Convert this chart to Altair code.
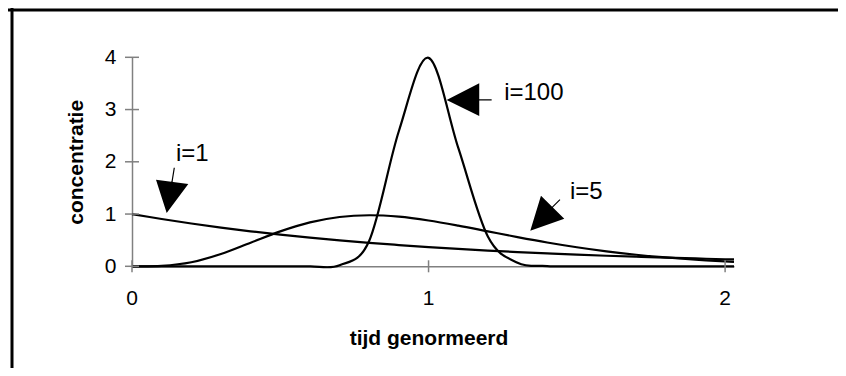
import altair as alt
import pandas as pd

# tijd genormeerd (theta)
theta = [0.0, 0.1, 0.2, 0.3, 0.4, 0.5, 0.6, 0.7, 0.8, 0.9, 1.0,
         1.1, 1.2, 1.3, 1.4, 1.5, 1.6, 1.7, 1.8, 1.9, 2.0, 2.03]
conc_i1 = [1.0, 0.905, 0.819, 0.741, 0.670, 0.607, 0.549, 0.497, 0.449, 0.407, 0.368,
           0.333, 0.301, 0.273, 0.247, 0.223, 0.202, 0.183, 0.165, 0.150, 0.135, 0.131]
conc_i5 = [0.0, 0.008, 0.077, 0.235, 0.451, 0.668, 0.840, 0.944, 0.977, 0.949, 0.877,
           0.779, 0.669, 0.559, 0.456, 0.365, 0.286, 0.221, 0.169, 0.127, 0.095, 0.086]
conc_i100 = [0.0, 0.0, 0.0, 0.0, 0.0, 0.0, 0.0, 0.02, 0.49, 2.59, 3.99,
             2.27, 0.57, 0.07, 0.005, 0.0, 0.0, 0.0, 0.0, 0.0, 0.0, 0.0]

series = [("i=1", conc_i1), ("i=5", conc_i5), ("i=100", conc_i100)]

# annotations: label, arrow tip (data coords), label position (data coords)
ann_labels = ["i=1", "i=100", "i=5"]
ann_tip_x = [0.117, 1.061, 1.343]
ann_tip_y = [1.02, 3.184, 0.682]
ann_text_x = [0.148, 1.255, 1.477]
ann_text_y = [2.15, 3.31, 1.43]

x_ticks = [0, 1, 2]
x_tick_labels = ["0", "1", "2"]
y_ticks = [0, 1, 2, 3, 4]

# arrow glyphs (pixel offsets from the tip, size=4 -> 1 unit = 1 px)
arrow_paths = [
    "M0,0L-10.7,-33.3L21.6,-29Z M4.7,-31L7,-45.3L8.2,-45.3L5.9,-31Z",
    "M0,0L32.6,-16.7L32.6,16Z M32,-0.6L45,-0.6L45,0.6L32,0.6Z",
    "M0,0L10.7,-35L34,-12Z M21,-23.1L29.3,-31.4L30.1,-30.6L21.8,-22.3Z",
]

rows = []
for name, vals in series:
    for t, v in zip(theta, vals):
        rows.append({"tijd": t, "conc": v, "reeks": name})
df = pd.DataFrame(rows)

W, H = 602, 209
FONT = "Liberation Sans"
GRAY = "#808080"

x_scale = alt.Scale(domain=[0, 2.03], nice=False, zero=False)
y_scale = alt.Scale(domain=[0, 4], nice=False)

x_axis = alt.Axis(values=x_ticks, ticks=False, grid=False, labels=False,
                  domainColor=GRAY, domainWidth=1.5,
                  title="tijd genormeerd", titleFont=FONT, titleFontSize=21,
                  titleFontWeight="bold", titleColor="black", titleX=296.5, titleY=78,
                  titleBaseline="alphabetic", titleAlign="center")
y_axis = alt.Axis(values=y_ticks, format="d", ticks=False, grid=False,
                  domainColor=GRAY, domainWidth=1.5, labelFont=FONT, labelFontSize=21,
                  labelColor="black", labelPadding=16, labelFlush=False, labelOverlap=False,
                  title="concentratie", titleFont=FONT, titleFontSize=21,
                  titleFontWeight="bold", titleColor="black", titleX=-50, titleY=H / 2,
                  titleBaseline="alphabetic", titleAlign="center", titleAngle=270)


def X(field):
    return alt.X(field, scale=x_scale, axis=x_axis)


def Y(field):
    return alt.Y(field, scale=y_scale, axis=y_axis)


one = pd.DataFrame({"k": [0]})

curves = alt.Chart(df).mark_line(interpolate="cardinal", tension=0, color="black",
                                 strokeWidth=2.2, clip=False).encode(
    x=X("tijd:Q"), y=Y("conc:Q"), detail="reeks:N")

yt = alt.Chart(pd.DataFrame({"v": y_ticks})).mark_rule(color=GRAY, strokeWidth=1.5).encode(
    y=Y("v:Q"), x=alt.value(-7), x2=alt.value(7))
xtd = pd.DataFrame({"v": x_ticks, "lab": x_tick_labels})
xt = alt.Chart(xtd).mark_rule(color=GRAY, strokeWidth=1.5).encode(
    x=X("v:Q"), y=alt.value(H - 6), y2=alt.value(H + 6))
xl = alt.Chart(xtd).mark_text(align="center", baseline="alphabetic", font=FONT,
                              fontSize=21, color="black").encode(
    x=X("v:Q"), y=alt.value(H + 38.7), text="lab:N")

frame_left = alt.Chart(one).mark_rule(color="black", strokeWidth=3).encode(
    x=alt.value(-120), y=alt.value(-49.3), y2=alt.value(310.7))
frame_top = alt.Chart(one).mark_rule(color="black", strokeWidth=3).encode(
    x=alt.value(-124), x2=alt.value(706), y=alt.value(-47.3))

layers = [curves, yt, xt, xl, frame_left, frame_top]
for i in range(len(ann_labels)):
    d = pd.DataFrame({"x": [ann_tip_x[i]], "y": [ann_tip_y[i]]})
    layers.append(alt.Chart(d).mark_point(shape=arrow_paths[i], size=4, filled=True,
                                          fill="black", strokeWidth=0, opacity=1).encode(
        x=X("x:Q"), y=Y("y:Q")))
td = pd.DataFrame({"x": ann_text_x, "y": ann_text_y, "t": ann_labels})
layers.append(alt.Chart(td).mark_text(align="left", baseline="middle", font=FONT,
                                      fontSize=24, color="black").encode(
    x=X("x:Q"), y=Y("y:Q"), text="t:N"))

chart = alt.layer(*layers).properties(
    width=W, height=H,
    autosize=alt.AutoSizeParams(type="none"),
    padding={"left": 124, "top": 49.3, "right": 104, "bottom": 101.7},
    background="white",
).configure_view(stroke=None)

chart.save("out.html", embed_options={"renderer": "svg", "actions": False})
